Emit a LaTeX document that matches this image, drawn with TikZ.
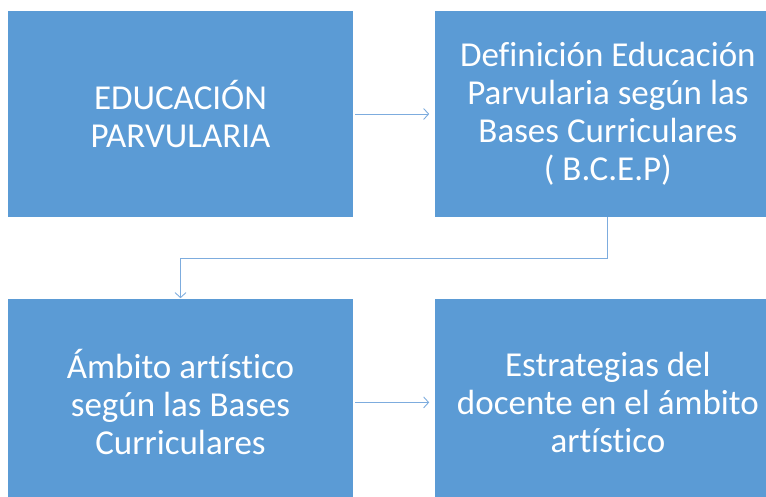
\documentclass[tikz,border=0pt]{standalone}
\usepackage{fontspec}
\setmainfont{Carlito}[Ligatures=CommonOff]
\usetikzlibrary{positioning,arrows.meta}
\definecolor{boxblue}{RGB}{91,155,213}
\definecolor{linkblue}{RGB}{125,172,222}
\tikzset{
    block/.style={fill=boxblue, text=white, minimum width=345pt, minimum height=206pt,
        inner sep=0pt, align=center, font=\fontsize{35}{38}\selectfont},
    link/.style={draw=linkblue, line width=0.9pt, -{Straight Barb[length=5pt,width=11pt]}}
}
\begin{document}
\begin{tikzpicture}[x=1pt, y=1pt]
    \useasboundingbox (0, 0) rectangle (766, -497);
    \clip (0, 0) rectangle (766, -497);

        \node[block] (edu) at (180.5, -114) {EDUCACIÓN\\PARVULARIA};
        \node[block, right=82pt of edu] (def) {Definición Educación\\Parvularia según las\\Bases Curriculares\\( B.C.E.P)};
        \node[block, below=82pt of edu] (amb) {Ámbito artístico\\según las Bases\\Curriculares};
        \node[block, right=82pt of amb] (est) {Estrategias del\\docente en el ámbito\\artístico};

        \draw[link, shorten <=2pt, shorten >=6pt] (edu) -- (def);
        \draw[link, shorten <=2pt, shorten >=6pt] (amb) -- (est);
        \draw[link, shorten >=1pt] (def.south) -- ++(0, -41) -| (amb.north);
    \end{tikzpicture}
\end{document}
